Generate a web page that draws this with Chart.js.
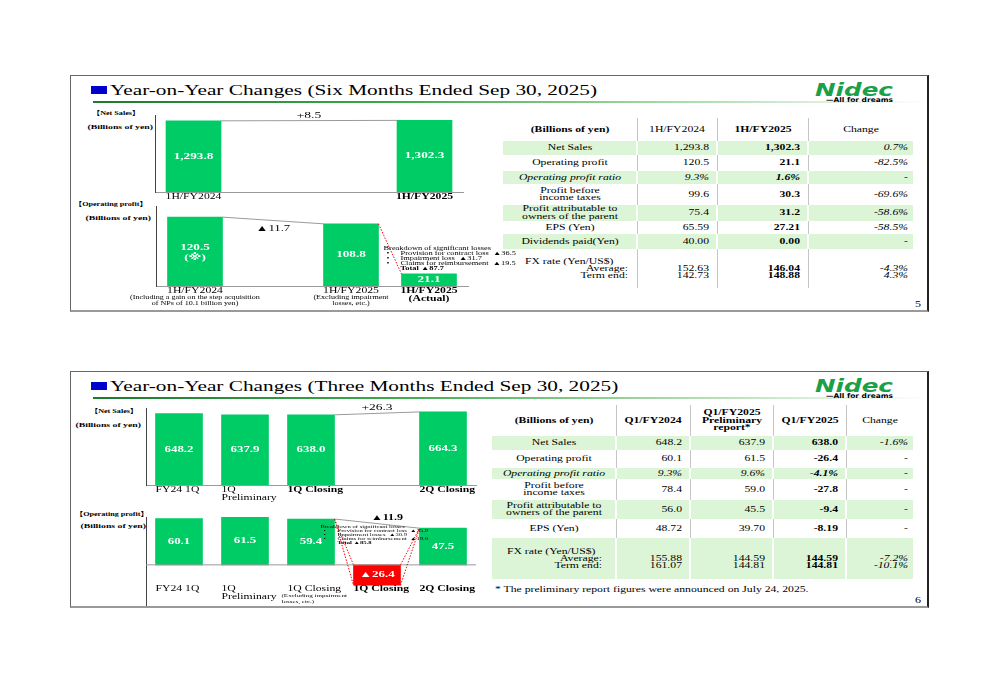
<!DOCTYPE html>
<html>
<head>
<meta charset="utf-8">
<title>Year-on-Year Changes</title>
<script src="https://cdn.jsdelivr.net/npm/chart.js@4.4.1/dist/chart.umd.min.js"></script>
<style>
  html, body { margin: 0; padding: 0; background: #fff; }
  body { position: relative; width: 1000px; height: 685px; overflow: hidden; font-family: "Liberation Serif", serif; color: #000; }
  .slide { position: absolute; left: 70px; width: 859px; box-sizing: border-box; border-left: 1px solid #666; border-top: 1px solid #666; border-right: 2px solid #222; border-bottom: 2px solid #9a9a9a; }
  .t { position: absolute; white-space: pre; }
  .box { position: absolute; }
  canvas { position: absolute; z-index: 2; }
</style>
</head>
<body>
<div class="slide" style="top:75px;height:237px"></div>
<div class="slide" style="top:371px;height:237px"></div>

<canvas id="salesHalf" width="330" height="110" style="left:145px;top:105px"></canvas>
<canvas id="opHalf" width="405" height="116" style="left:120px;top:196px"></canvas>
<canvas id="salesQ" width="345" height="110" style="left:140px;top:398px"></canvas>
<canvas id="opQ" width="345" height="100" style="left:140px;top:507px"></canvas>

<script>
// ---------- data: six months ----------
const halfLabels = ["1H/FY2024", "", "", "1H/FY2025"];
const halfSales = [1293.8, null, null, 1302.3];
const halfOpLabels = ["1H/FY2024", "", "1H/FY2025", "1H/FY2025"];
const halfOp = [120.5, null, 108.8, 21.1];
const halfOpSub = [[], [], [], ["(Actual)"]];
const halfOpNotes = [["(Including a gain on the step acquisition", "of NPs of 10.1 billion yen)"], [], ["(Excluding impairment", "losses, etc.)"], []];
const halfLossItems = ["Provision for contract loss", "Impairment loss", "Claims for reimbursement"];
const halfLossValues = [36.5, 31.7, 19.5];
const halfLossTotal = 87.7;

// ---------- data: three months ----------
const qLabels = ["FY24 1Q", "1Q", "1Q Closing", "", "2Q Closing"];
const qSales = [648.2, 637.9, 638.0, null, 664.3];
const qOpLabels = ["FY24 1Q", "1Q", "1Q Closing", "1Q Closing", "2Q Closing"];
const qOp = [60.1, 61.5, 59.4, -26.4, 47.5];
const qSub = [[], ["Preliminary"], [], [], []];
const qOpNotes = [[], [], ["(Excluding impairment", "losses, etc.)"], [], []];
const qLossItems = ["Provision for contract loss", "Impairment losses", "Claims for reimbursement"];
const qLossValues = [35.9, 30.9, 19.0];
const qLossTotal = 85.8;

// ---------- tables ----------
const t1Head = ["(Billions of yen)", "1H/FY2024", "1H/FY2025", "Change"];
const t1Items = ["Net Sales", "Operating profit", "Operating profit ratio", "Profit before\nincome taxes", "Profit attributable to\nowners of the parent", "EPS (Yen)", "Dividends paid(Yen)"];
const t1Prev = ["1,293.8", "120.5", "9.3%", "99.6", "75.4", "65.59", "40.00"];
const t1Curr = ["1,302.3", "21.1", "1.6%", "30.3", "31.2", "27.21", "0.00"];
const t1Chg = ["0.7%", "-82.5%", "-", "-69.6%", "-58.6%", "-58.5%", "-"];
const t1Fx = [["152.63", "142.73"], ["146.04", "148.88"], ["-4.3%", "4.3%"]];

const t2Head = ["(Billions of yen)", "Q1/FY2024", "Q1/FY2025\nPreliminary\nreport*", "Q1/FY2025", "Change"];
const t2Items = ["Net Sales", "Operating profit", "Operating profit ratio", "Profit before\nincome taxes", "Profit attributable to\nowners of the parent", "EPS (Yen)"];
const t2Prev = ["648.2", "60.1", "9.3%", "78.4", "56.0", "48.72"];
const t2Prelim = ["637.9", "61.5", "9.6%", "59.0", "45.5", "39.70"];
const t2Curr = ["638.0", "-26.4", "-4.1%", "-27.8", "-9.4", "-8.19"];
const t2Chg = ["-1.6%", "-", "-", "-", "-", "-"];
const t2Fx = [["155.88", "161.07"], ["144.59", "144.81"], ["144.59", "144.81"], ["-7.2%", "-10.1%"]];

// ---------- styles ----------
const GREEN = "#00cc66";
const RED = "#ff0000";
const PALE = "#dcf5d6";
const SERIF = '"Liberation Serif", "DejaVu Sans", "Noto Sans CJK JP", serif';
const SX = 1.5; // the slides are squeezed vertically, so text looks wide

// html text, x/y = anchor and vertical centre
function put(x, y, s, o) {
  o = o || {};
  const size = o.size || 7.8;
  const al = o.align || "left";
  const d = document.createElement("div");
  d.className = "t";
  d.textContent = s;
  Object.assign(d.style, {
    left: x + "px",
    top: (y - size / 2) + "px",
    fontSize: size + "px",
    lineHeight: size + "px",
    fontWeight: o.bold ? "bold" : "normal",
    fontStyle: o.italic ? "italic" : "normal",
    fontFamily: o.family || SERIF,
    color: o.color || "#000",
    transformOrigin: al === "left" ? "0 50%" : al === "right" ? "100% 50%" : "50% 50%",
    transform: (al === "left" ? "" : al === "right" ? "translateX(-100%) " : "translateX(-50%) ") + "scaleX(" + (o.sx || SX) + ")"
  });
  document.body.appendChild(d);
}

function box(x, y, w, h, bg) {
  const d = document.createElement("div");
  d.className = "box";
  Object.assign(d.style, { left: x + "px", top: y + "px", width: w + "px", height: h + "px", background: bg });
  document.body.appendChild(d);
}

// ---------- slide frames ----------
function frame(top, title, page) {
  box(91, top + 11, 16, 8, "#0000cc");
  put(110, top + 16, title, { size: 14, sx: 1.52 });
  box(93, top + 26, 836, 2, "linear-gradient(to right, #1b7a30, #3aa84a 35%, #a9dba9 70%, rgba(255,255,255,0))");
  put(893, top + 15, "Nidec", { size: 17, bold: true, italic: true, family: '"DejaVu Sans", sans-serif', color: "#19a048", sx: 1.45, align: "right" });
  put(893, top + 25, "\u2014All for dreams", { size: 6.5, bold: true, family: '"DejaVu Sans", sans-serif', sx: 1.15, align: "right" });
  put(915, top + 230, page, { size: 8 });
}
frame(75, "Year-on-Year Changes (Six Months Ended Sep 30, 2025)", "5");
frame(371, "Year-on-Year Changes (Three Months Ended Sep 30, 2025)", "6");

// side captions
put(92, 113, "\u3010Net Sales\u3011", { size: 6.5, bold: true, sx: 1.25 });
put(153, 127, "(Billions of yen)", { size: 6.5, bold: true, align: "right" });
put(74, 204, "\u3010Operating profit\u3011", { size: 6.5, bold: true, sx: 1.25 });
put(151, 218, "(Billions of yen)", { size: 6.5, bold: true, align: "right" });
put(90, 411, "\u3010Net Sales\u3011", { size: 6.5, bold: true, sx: 1.25 });
put(141, 425, "(Billions of yen)", { size: 6.5, bold: true, align: "right" });
put(75, 514, "\u3010Operating profit\u3011", { size: 6.5, bold: true, sx: 1.25 });
put(146, 526, "(Billions of yen)", { size: 6.5, bold: true, align: "right" });

// ---------- tables ----------
function drawTable(L, head, items, columns, fx) {
  const nc = L.cols.length - 1;
  for (let r = 0; r < L.rows.length - 1; r++) {
    const y0 = L.rows[r], y1 = L.rows[r + 1];
    if (L.green.indexOf(r) >= 0) {
      for (let c = 0; c < nc; c++) {
        const x = L.cols[c] + (c ? 1 : 0);
        box(x, y0, L.cols[c + 1] - x - (c < nc - 1 ? 1 : 0), y1 - y0, PALE);
      }
    } else {
      for (let c = 1; c < nc; c++) box(L.cols[c], y0, 1, y1 - y0, "#c6c6c6");
    }
  }
  const mid = r => (L.rows[r] + L.rows[r + 1]) / 2;
  // header
  head.forEach((h, c) => {
    const lines = h.split("\n");
    lines.forEach((s, i) => put((L.cols[c] + L.cols[c + 1]) / 2, mid(0) + (i - (lines.length - 1) / 2) * 7.5, s,
      { bold: L.headBold[c], align: "center" }));
  });
  // body rows
  items.forEach((it, k) => {
    const yc = mid(k + 1);
    const lines = it.split("\n");
    lines.forEach((s, i) => put((L.cols[0] + L.cols[1]) / 2, yc + (i - (lines.length - 1) / 2) * 7.5, s,
      { align: "center", italic: k === 2 }));
    columns.forEach((col, j) => {
      const last = j === columns.length - 1;
      put(L.cols[j + 2] - (last ? 5 : 8), yc, col[k], { align: "right", bold: L.colBold[j], italic: k === 2 || last });
    });
  });
  // fx rate row
  const yf = mid(L.rows.length - 2);
  put(L.fxLeft, yf - 7, "FX rate (Yen/US$)");
  put(L.fxRight, yf, "Average:", { align: "right" });
  put(L.fxRight, yf + 7.5, "Term end:", { align: "right" });
  fx.forEach((pair, j) => {
    const last = j === fx.length - 1;
    pair.forEach((s, i) => put(L.cols[j + 2] - (last ? 5 : 8), yf + i * 7.5, s,
      { align: "right", bold: L.colBold[j], italic: last }));
  });
}

drawTable({
  cols: [503, 637, 717, 808, 913],
  rows: [118, 141, 155, 171, 184, 205, 221, 234, 249, 288],
  green: [1, 3, 5, 7],
  headBold: [true, false, true, false],
  colBold: [false, true, false],
  fxLeft: 525, fxRight: 628
}, t1Head, t1Items, [t1Prev, t1Curr, t1Chg], t1Fx);

drawTable({
  cols: [492, 616, 690, 773, 846, 913],
  rows: [405, 436, 450, 468, 479, 500, 519, 538, 579],
  green: [1, 3, 5, 7],
  headBold: [true, true, true, true, false],
  colBold: [false, false, true, false],
  fxLeft: 507, fxRight: 602
}, t2Head, t2Items, [t2Prev, t2Prelim, t2Curr, t2Chg], t2Fx);

put(495, 590, "* The preliminary report figures were announced on July 24, 2025.", { size: 7.8 });

// ---------- chart helpers ----------
function font(size, bold) { return (bold ? "bold " : "") + size + "px " + SERIF; }

function txt(ctx, s, x, y, fnt, color, align, sx) {
  ctx.save();
  ctx.font = fnt;
  ctx.fillStyle = color || "#000";
  ctx.textAlign = align || "center";
  ctx.textBaseline = "middle";
  ctx.translate(x, y);
  ctx.scale(sx || SX, 1);
  ctx.fillText(s, 0, 0);
  ctx.restore();
}

function seg(ctx, x1, y1, x2, y2, color, dash) {
  ctx.save();
  ctx.strokeStyle = color;
  ctx.lineWidth = 1;
  if (dash) ctx.setLineDash(dash);
  ctx.beginPath();
  ctx.moveTo(x1, y1);
  ctx.lineTo(x2, y2);
  ctx.stroke();
  ctx.restore();
}

function barBox(chart, i) {
  const b = chart.getDatasetMeta(0).data[i];
  return { x: b.x, l: b.x - b.width / 2, r: b.x + b.width / 2, t: Math.min(b.y, b.base), b: Math.max(b.y, b.base) };
}

function valueText(v) {
  if (v < 0) return "\u25B2" + Math.abs(v).toFixed(1);
  return v.toLocaleString("en-US", { minimumFractionDigits: 1, maximumFractionDigits: 1 });
}

function deltaText(to, from) {
  const d = to - from;
  return (d >= 0 ? "+" : "\u25B2") + Math.abs(d).toFixed(1);
}

function valueLabels(chart, values, size) {
  values.forEach((v, i) => {
    if (v === null) return;
    const r = barBox(chart, i);
    txt(chart.ctx, valueText(v), r.x, (r.t + r.b) / 2, font(size, true), "#fff");
  });
}

// category captions under the bars
function catLabels(chart, labels, sub, notes, y, boldIdx, align, noteSize, barW) {
  const xs = chart.scales.x;
  labels.forEach((s, i) => {
    if (!s) return;
    const cx = xs.getPixelForValue(i);
    const x = align === "left" ? cx - barW / 2 : cx;
    const bold = boldIdx.indexOf(i) >= 0;
    txt(chart.ctx, s, x, y, font(7.8, bold), "#000", align);
    (sub[i] || []).forEach((t, k) => txt(chart.ctx, t, x, y + 8 * (k + 1), font(7.8, bold), "#000", align));
    (notes[i] || []).forEach((t, k) => txt(chart.ctx, t, align === "left" ? x - 6 : x, y + 6.5 + 6 * k, font(noteSize), "#000", align));
  });
}

function breakdown(ctx, x, y, step, size, items, values, total) {
  txt(ctx, "Breakdown of significant losses", x, y, font(size), "#000", "left");
  items.forEach((s, i) => {
    txt(ctx, "\u2022", x + 3, y + step * (i + 1), font(size), "#000", "left");
    txt(ctx, s + "  \u25B2" + values[i].toFixed(1), x + 17, y + step * (i + 1), font(size), "#000", "left");
  });
  txt(ctx, "Total \u25B2" + total.toFixed(1), x + 17, y + step * 4, font(size, true), "#000", "left");
}

function barChart(id, labels, values, cfg) {
  return new Chart(document.getElementById(id), {
    type: "bar",
    data: {
      labels: labels,
      datasets: [{
        data: values,
        backgroundColor: values.map(v => (v !== null && v < 0 ? RED : GREEN)),
        borderWidth: 0,
        barThickness: cfg.bar
      }]
    },
    options: {
      responsive: false,
      animation: false,
      layout: { padding: cfg.pad },
      plugins: { legend: { display: false }, tooltip: { enabled: false } },
      scales: {
        x: {
          grid: { display: false },
          ticks: { display: false },
          border: { display: cfg.xLine, color: "#9a9a9a" },
          afterFit: s => { s.height = 0; }
        },
        y: {
          min: cfg.min,
          max: cfg.max,
          grid: { display: false },
          ticks: { display: false },
          border: { color: "#444" },
          afterFit: s => { s.width = 0; }
        }
      }
    },
    plugins: [{ id: "deco", afterDraw: cfg.deco }]
  });
}

// ---------- charts ----------
barChart("salesHalf", halfLabels, halfSales, {
  bar: 55, min: 0, max: 1400, xLine: true,
  pad: { left: 10, top: 10, right: 12, bottom: 23 },
  deco(chart) {
    const ctx = chart.ctx;
    const a = barBox(chart, 0), b = barBox(chart, 3);
    seg(ctx, a.r, a.t, b.l, b.t, "#9a9a9a");
    txt(ctx, deltaText(halfSales[3], halfSales[0]), (a.r + b.l) / 2, (a.t + b.t) / 2 - 5, font(9));
    valueLabels(chart, halfSales, 8.8);
    catLabels(chart, halfLabels, [], [], chart.chartArea.bottom + 5, [3], "center", 5.4, 55);
  }
});

barChart("opHalf", halfOpLabels, halfOp, {
  bar: 55, min: 0, max: 140, xLine: true,
  pad: { left: 36, top: 10, right: 57, bottom: 26 },
  deco(chart) {
    const ctx = chart.ctx;
    const a = barBox(chart, 0), b = barBox(chart, 2), c = barBox(chart, 3);
    seg(ctx, a.r, a.t, b.l, b.t, "#9a9a9a");
    txt(ctx, deltaText(halfOp[2], halfOp[0]), (a.r + b.l) / 2, (a.t + b.t) / 2 + 8, font(8.5));
    seg(ctx, b.r, b.t, c.l, c.t, RED, [1.5, 1.5]);
    [0, 2, 3].forEach(i => {
      const r = barBox(chart, i);
      const yc = (r.t + r.b) / 2;
      if (i === 0) {
        txt(ctx, valueText(halfOp[i]), r.x, yc - 4, font(8.8, true), "#fff");
        txt(ctx, "(\u203B)", r.x, yc + 6, font(8.8, true), "#fff");
      } else {
        txt(ctx, valueText(halfOp[i]), r.x, yc, font(8.8, true), "#fff");
      }
    });
    catLabels(chart, halfOpLabels, halfOpSub, halfOpNotes, chart.chartArea.bottom + 5, [3], "center", 5.4, 55);
    breakdown(ctx, b.r + 5, b.t + 25, 5, 5.6, halfLossItems, halfLossValues, halfLossTotal);
  }
});

barChart("salesQ", qLabels, qSales, {
  bar: 47, min: 0, max: 700, xLine: true,
  pad: { left: 6, top: 10, right: 9, bottom: 23 },
  deco(chart) {
    const ctx = chart.ctx;
    const a = barBox(chart, 2), b = barBox(chart, 4);
    seg(ctx, a.r, a.t, b.l, b.t, "#9a9a9a");
    txt(ctx, deltaText(qSales[4], qSales[2]), (a.r + b.l) / 2, (a.t + b.t) / 2 - 6, font(9));
    valueLabels(chart, qSales, 8.6);
    catLabels(chart, qLabels, qSub, [], chart.chartArea.bottom + 5, [2, 4], "left", 4.7, 47);
  }
});

barChart("opQ", qOpLabels, qOp, {
  bar: 47, min: -52, max: 62, xLine: false,
  pad: { left: 6, top: 10, right: 9, bottom: 2 },
  deco(chart) {
    const ctx = chart.ctx;
    const area = chart.chartArea;
    const y0 = chart.scales.y.getPixelForValue(0);
    seg(ctx, area.left, y0, area.right, y0, "#9a9a9a");
    const a = barBox(chart, 2), m = barBox(chart, 3), b = barBox(chart, 4);
    seg(ctx, a.r, a.t, b.l, b.t, "#9a9a9a");
    seg(ctx, a.r, a.t, m.l, m.t, RED, [1.5, 1.5]);
    seg(ctx, a.r, a.t, m.l, m.b, RED, [1.5, 1.5]);
    seg(ctx, m.r, m.t, b.l, b.t, RED, [1.5, 1.5]);
    seg(ctx, m.r, m.b, b.l, b.t, RED, [1.5, 1.5]);
    txt(ctx, deltaText(qOp[4], qOp[2]), (a.r + b.l) / 2 + 10, a.t - 1, font(8, true));
    valueLabels(chart, qOp, 8.6);
    catLabels(chart, qOpLabels, qSub, qOpNotes, y0 + 24, [3, 4], "left", 4.7, 47);
    breakdown(ctx, a.r - 14, a.t + 8, 4, 4.4, qLossItems, qLossValues, qLossTotal);
  }
});
</script>
</body>
</html>
